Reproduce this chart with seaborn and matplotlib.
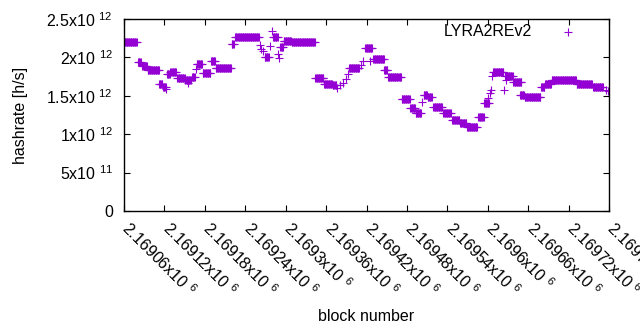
import numpy as np
import pandas as pd
import matplotlib
matplotlib.use('Agg')
import matplotlib.pyplot as plt
import matplotlib.transforms as mtransforms
import seaborn as sns

# runs of equal hashrate: first/last block offset from base_block, value in 1e12 h/s
base_block = 2169060
run_start = [0, 21, 27, 35, 52, 58, 63, 64, 69, 79, 91, 95, 101, 107, 108, 117, 129, 136, 160, 165,
             202, 203, 206, 209, 217, 220, 221, 229, 230, 232, 237, 249, 284, 297, 310, 316, 321, 325, 330, 333,
             334, 352, 355, 358, 365, 370, 386, 392, 412, 425, 433, 442, 445, 451, 459, 474, 487, 499, 509, 526,
             535, 540, 543, 545, 546, 548, 564, 566, 567, 578, 588, 595, 619, 625, 635, 672, 696, 716, 719]
run_end = [19, 25, 34, 52, 57, 62, 63, 68, 77, 90, 99, 95, 105, 107, 116, 128, 135, 159, 163, 200,
           202, 203, 206, 215, 217, 220, 228, 229, 230, 236, 248, 283, 296, 309, 315, 316, 321, 325, 330, 333,
           349, 352, 355, 368, 365, 386, 391, 411, 424, 432, 441, 442, 450, 457, 472, 485, 498, 508, 524, 534,
           542, 540, 543, 545, 546, 563, 564, 577, 567, 590, 594, 618, 624, 634, 671, 695, 711, 716, 719]
run_rate = [2.20, 1.94, 1.89, 1.83, 1.66, 1.61, 1.59, 1.78, 1.81, 1.73, 1.71, 1.67, 1.75, 1.85, 1.91, 1.80, 1.95, 1.86, 2.18, 2.27,
            2.16, 2.11, 2.08, 2.00, 2.15, 2.35, 2.27, 2.05, 1.99, 2.14, 2.22, 2.20, 1.73, 1.66, 1.64, 1.60, 1.64, 1.67, 1.72, 1.78,
            1.86, 1.90, 1.95, 2.12, 1.95, 1.98, 1.84, 1.74, 1.46, 1.34, 1.27, 1.42, 1.51, 1.48, 1.36, 1.28, 1.18, 1.14, 1.10, 1.22,
            1.41, 1.47, 1.53, 1.58, 1.76, 1.81, 1.58, 1.76, 1.71, 1.68, 1.51, 1.48, 1.62, 1.65, 1.70, 1.65, 1.61, 1.58, 1.56]

x_ticks = [2169060, 2169120, 2169180, 2169240, 2169300, 2169360, 2169420,
           2169480, 2169540, 2169600, 2169660, 2169720, 2169780]
x_tick_labels = ['2.16906', '2.16912', '2.16918', '2.16924', '2.1693', '2.16936', '2.16942',
                 '2.16948', '2.16954', '2.1696', '2.16966', '2.16972', '2.16978']
y_ticks = [0, 0.5e12, 1.0e12, 1.5e12, 2.0e12, 2.5e12]
y_tick_labels = ['0', '5x10 $^{11}$', '1x10 $^{12}$', '1.5x10 $^{12}$', '2x10 $^{12}$', '2.5x10 $^{12}$']

blocks = np.concatenate([np.arange(s, e + 1) for s, e in zip(run_start, run_end)]) + base_block
rates = np.concatenate([np.full(e - s + 1, r) for s, e, r in zip(run_start, run_end, run_rate)]) * 1e12
df = pd.DataFrame({'block': blocks, 'hashrate': rates})

plt.rcParams['font.family'] = ['Liberation Sans', 'DejaVu Sans']
plt.rcParams['mathtext.fontset'] = 'custom'
plt.rcParams['mathtext.rm'] = 'Liberation Sans'
plt.rcParams['mathtext.default'] = 'regular'
plt.rcParams['font.size'] = 11.5

fig = plt.figure(figsize=(6.4, 3.3), dpi=100)
ax = fig.add_axes([124 / 640, 119 / 330, 485 / 640, 192 / 330])
sns.scatterplot(data=df, x='block', y='hashrate', marker='+', color='#9400d3',
                s=34, linewidth=0.8, ax=ax, label='LYRA2REv2')

ax.set_xlim(2169060, 2169780)
ax.set_ylim(0, 2.5e12)
ax.set_xticks(x_ticks)
ax.set_xticklabels([t + 'x10 $^{6}$' for t in x_tick_labels], rotation=-45,
                   ha='left', va='top', rotation_mode='anchor')
ax.set_yticks(y_ticks)
ax.set_yticklabels(y_tick_labels)
ax.tick_params(direction='in', top=True, right=True, length=4.5, width=0.8)
ax.tick_params(axis='y', pad=8)
ax.tick_params(axis='x', pad=9)
for sp in ax.spines.values():
    sp.set_linewidth(1.0)

# nudge rotated tick labels right/up so the first glyph sits under its tick
shift = mtransforms.ScaledTranslation(0.08, 0.05, fig.dpi_scale_trans)
for lbl in ax.get_xticklabels():
    lbl.set_transform(lbl.get_transform() + shift)

ax.set_xlabel('block number')
ax.xaxis.set_label_coords(0.5, -0.51)
ax.set_ylabel('hashrate [h/s]', labelpad=13)
ax.legend(loc='upper right', bbox_to_anchor=(0.962, 1.008), frameon=False, markerfirst=False,
          handletextpad=1.25, borderaxespad=0, fontsize=11.5)

fig.savefig('out.png', dpi=100)
